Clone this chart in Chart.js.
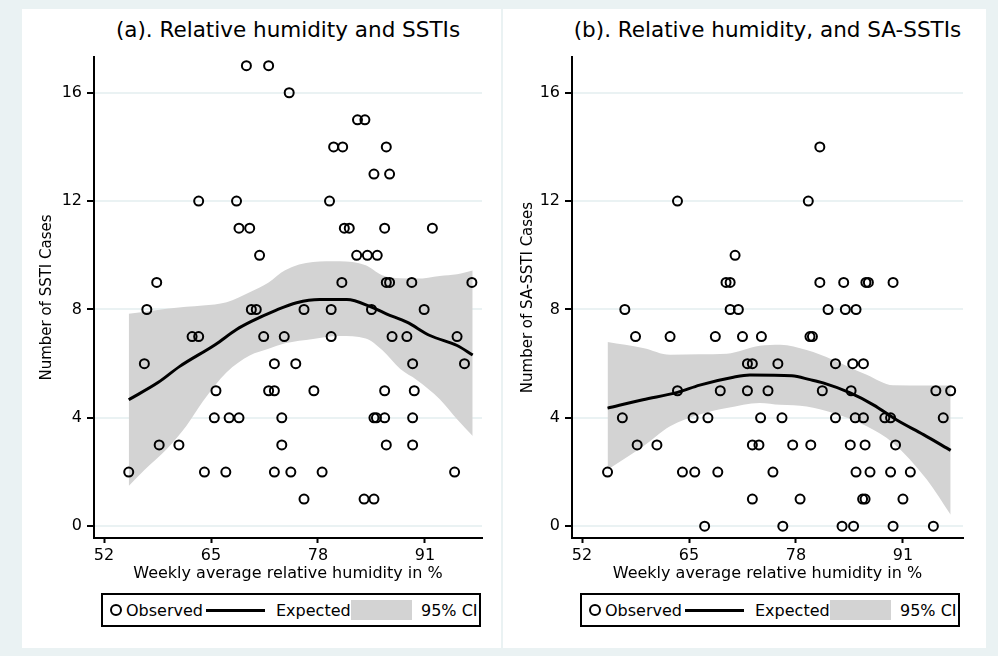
<!DOCTYPE html>
<html>
<head>
<meta charset="utf-8">
<script src="https://cdn.jsdelivr.net/npm/chart.js@4.4.0/dist/chart.umd.min.js"></script>
<style>
body { margin: 0; width: 998px; height: 656px; background: #eaf2f3; position: relative; overflow: hidden; font-family: "DejaVu Sans", sans-serif; }
.panel { position: absolute; top: 9px; height: 639px; background: #fff; }
.title { position: absolute; top: 17px; font-size: 21.5px; line-height: 26px; text-align: center; white-space: nowrap; color: #000; }
canvas { position: absolute; }
.legend { position: absolute; top: 593px; width: 380px; height: 34px; box-sizing: border-box; border: 2px solid #000; background: #fff; font-size: 16px; color: #000; }
.legend span { position: absolute; top: 6px; line-height: 20px; white-space: nowrap; }
.legend .mk { position: absolute; left: 7px; top: 9px; width: 8px; height: 8px; border: 2px solid #000; border-radius: 50%; }
.legend .ln { position: absolute; left: 103px; top: 14px; width: 59px; height: 3px; background: #000; }
.legend .bx { position: absolute; left: 248px; top: 5px; width: 61px; height: 20px; background: #d3d3d3; }
</style>
</head>
<body>
<div class="panel" style="left:22px;width:479px"></div>
<div class="panel" style="left:503px;width:483px"></div>
<div class="title" style="left:94px;width:388px">(a). Relative humidity and SSTIs</div>
<div class="title" style="left:572px;width:391px">(b). Relative humidity, and SA-SSTIs</div>
<canvas id="chartA" width="479" height="580" style="left:22px;top:9px"></canvas>
<canvas id="chartB" width="486" height="580" style="left:500px;top:9px"></canvas>
<div class="legend" style="left:101px"><div class="mk"></div><span style="left:23px">Observed</span><div class="ln"></div><span style="left:173px">Expected</span><div class="bx"></div><span style="left:318px">95% CI</span></div>
<div class="legend" style="left:580px"><div class="mk"></div><span style="left:23px">Observed</span><div class="ln"></div><span style="left:173px">Expected</span><div class="bx"></div><span style="left:318px">95% CI</span></div>
<script>
const xTicks = [52, 65, 78, 91];
const yTicks = [0, 4, 8, 12, 16];

// (a) all SSTIs, weekly observations
const humA = [55.0, 56.9, 57.2, 58.4, 58.7, 61.1, 62.7, 63.5, 63.5, 64.2, 65.4, 65.6, 66.8, 67.2, 68.1, 68.4, 68.4, 69.3, 69.7, 69.9,
  70.5, 70.9, 71.4, 72.0, 72.0, 72.7, 72.7, 72.7, 73.6, 73.6, 73.9, 74.5, 74.7, 75.3, 76.3, 76.3, 77.5, 78.5, 79.4, 79.6,
  79.6, 79.9, 80.9, 81.0, 81.2, 81.8, 82.7, 82.8, 83.7, 83.6, 84.0, 84.5, 84.8, 84.8, 84.8, 85.2, 85.1, 86.1, 86.1, 86.1,
  86.3, 86.3, 86.7, 86.7, 86.3, 87.0, 88.8, 89.4, 89.5, 89.5, 89.5, 89.7, 90.9, 91.9, 94.6, 94.9, 95.8, 96.7];
const casesA = [2, 6, 8, 9, 3, 3, 7, 7, 12, 2, 4, 5, 2, 4, 12, 4, 11, 17, 11, 8,
  8, 10, 7, 5, 17, 5, 6, 2, 4, 3, 7, 16, 2, 6, 8, 1, 5, 2, 12, 8,
  7, 14, 9, 14, 11, 11, 10, 15, 15, 1, 10, 8, 13, 4, 1, 10, 4, 11, 5, 4,
  14, 9, 9, 13, 3, 7, 7, 9, 4, 3, 6, 5, 8, 11, 2, 7, 6, 9];
const fitXA = [55.0, 58.6, 61.2, 65.5, 68.1, 69.9, 72.8, 75.4, 78.2, 81.5, 84.5, 86.3, 88.8, 91.6, 94.9, 96.8];
const fitYA = [4.67, 5.31, 5.9, 6.7, 7.26, 7.56, 7.96, 8.25, 8.37, 8.37, 8.09, 7.84, 7.53, 7.04, 6.67, 6.32];
const ciXA = [55.0, 57.0, 59.6, 62.0, 64.0, 66.9, 69.7, 72.0, 74.0, 77.4, 80.6, 83.8, 85.8, 88.0, 90.0, 92.8, 94.9, 96.8];
const ciHiA = [7.84, 7.92, 8.03, 8.1, 8.15, 8.27, 8.64, 9.0, 9.45, 9.75, 9.78, 9.63, 9.26, 9.15, 9.14, 9.24, 9.3, 9.44];
const ciLoA = [1.48, 2.1, 2.84, 3.7, 4.6, 5.68, 6.3, 6.55, 6.75, 6.91, 7.02, 6.93, 6.5, 5.8, 5.4, 4.69, 3.95, 3.33];

// (b) SA-SSTIs
const humB = [55.1, 56.9, 57.2, 58.5, 58.7, 61.1, 62.7, 63.6, 63.6, 64.2, 65.5, 65.7, 66.9, 67.3, 68.2, 68.5, 68.8, 69.5, 70.0, 70.0,
  70.6, 71.0, 71.5, 72.1, 72.1, 72.7, 72.7, 72.7, 73.5, 73.7, 73.8, 74.6, 75.2, 75.8, 76.3, 76.4, 77.6, 78.5, 79.5, 79.7,
  79.8, 80.0, 80.9, 80.9, 81.2, 81.9, 82.8, 82.8, 83.6, 83.8, 84.0, 84.6, 84.7, 84.9, 85.0, 85.2, 85.3, 85.3, 86.1, 86.2,
  86.2, 86.4, 86.4, 86.5, 86.8, 87.0, 88.8, 89.5, 89.5, 89.8, 89.8, 90.1, 91.0, 91.9, 94.7, 95.0, 95.9, 96.8];
const casesB = [2, 4, 8, 7, 3, 3, 7, 12, 5, 2, 4, 2, 0, 4, 7, 2, 5, 9, 9, 8,
  10, 8, 7, 6, 5, 6, 3, 1, 3, 4, 7, 5, 2, 6, 4, 0, 3, 1, 12, 7,
  3, 7, 14, 9, 5, 8, 6, 4, 0, 9, 8, 3, 5, 6, 0, 4, 8, 2, 1, 6,
  4, 3, 1, 9, 9, 2, 4, 4, 2, 9, 0, 3, 1, 2, 0, 5, 4, 5];
const fitXB = [55.1, 59.4, 63.6, 66.3, 70.4, 72.4, 77.5, 79.7, 81.3, 84.6, 87.4, 90.2, 93.5, 96.8];
const fitYB = [4.36, 4.67, 4.94, 5.21, 5.5, 5.58, 5.55, 5.41, 5.29, 4.92, 4.48, 3.93, 3.38, 2.8];
const ciXB = [55.1, 59.4, 62.7, 66.3, 69.6, 73.6, 76.1, 79.3, 82.5, 86.6, 89.8, 93.9, 96.8];
const ciHiB = [6.8, 6.58, 6.33, 6.35, 6.37, 6.66, 6.7, 6.5, 6.14, 5.59, 5.2, 5.19, 5.19];
const ciLoB = [2.08, 2.94, 3.69, 4.12, 4.36, 4.55, 4.48, 4.42, 4.18, 3.69, 3.07, 1.72, 0.42];

const font = 'DejaVu Sans';
const pts = (xs, ys) => xs.map((x, i) => ({ x: x, y: ys[i] }));

function makePanel(id, obsX, obsY, fitX, fitY, ciX, ciHi, ciLo, yTitle, xMax, yTitlePad, padRight) {
  new Chart(document.getElementById(id), {
    type: 'scatter',
    data: {
      datasets: [{
        data: pts(obsX, obsY),
        pointStyle: 'circle', pointRadius: 4.5, borderWidth: 2,
        borderColor: '#000', backgroundColor: 'rgba(0,0,0,0)', order: 0
      }, {
        data: pts(fitX, fitY), showLine: true, pointRadius: 0,
        borderColor: '#000', borderWidth: 3, cubicInterpolationMode: 'monotone', order: 1
      }, {
        data: pts(ciX, ciHi), showLine: true, pointRadius: 0, borderWidth: 0,
        borderColor: 'rgba(0,0,0,0)', backgroundColor: '#d3d3d3', fill: 3,
        cubicInterpolationMode: 'monotone', order: 2
      }, {
        data: pts(ciX, ciLo), showLine: true, pointRadius: 0, borderWidth: 0,
        borderColor: 'rgba(0,0,0,0)', cubicInterpolationMode: 'monotone', order: 3
      }]
    },
    options: {
      responsive: false, animation: false, events: [],
      layout: { padding: { top: 48, right: padRight, bottom: 6, left: 0 } },
      plugins: { legend: { display: false }, tooltip: { enabled: false } },
      scales: {
        x: {
          type: 'linear', min: 50.78, max: xMax,
          afterBuildTicks: s => { s.ticks = xTicks.map(v => ({ value: v })); },
          afterFit: s => { s.height = 45; },
          grid: { drawOnChartArea: false, drawTicks: true, tickLength: 5, tickWidth: 2, tickColor: '#000' },
          border: { display: true, color: '#000', width: 2 },
          ticks: { color: '#000', font: { family: font, size: 16 }, padding: 3, maxRotation: 0, autoSkip: false },
          title: { display: true, text: 'Weekly average relative humidity in %', color: '#000',
            font: { family: font, size: 16 }, padding: { top: 0, bottom: 0 } }
        },
        y: {
          min: -0.435, max: 17.32,
          afterBuildTicks: s => { s.ticks = yTicks.map(v => ({ value: v })); },
          afterFit: s => { s.width = 72; },
          grid: { color: '#eaf2f3', lineWidth: 2, drawTicks: true, tickLength: 7, tickWidth: 2, tickColor: '#000' },
          border: { display: true, color: '#000', width: 2 },
          ticks: { color: '#000', font: { family: font, size: 16 }, padding: 5 },
          title: { display: true, text: yTitle, color: '#000',
            font: { family: font, size: 15 }, padding: { top: yTitlePad, bottom: 0 } }
        }
      }
    }
  });
}

makePanel('chartA', humA, casesA, fitXA, fitYA, ciXA, ciHiA, ciLoA, 'Number of SSTI Cases', 97.93, 16, 19);
makePanel('chartB', humB, casesB, fitXB, fitYB, ciXB, ciHiB, ciLoB, 'Number of SA-SSTI Cases', 98.3, 19, 23);
</script>
</body>
</html>
